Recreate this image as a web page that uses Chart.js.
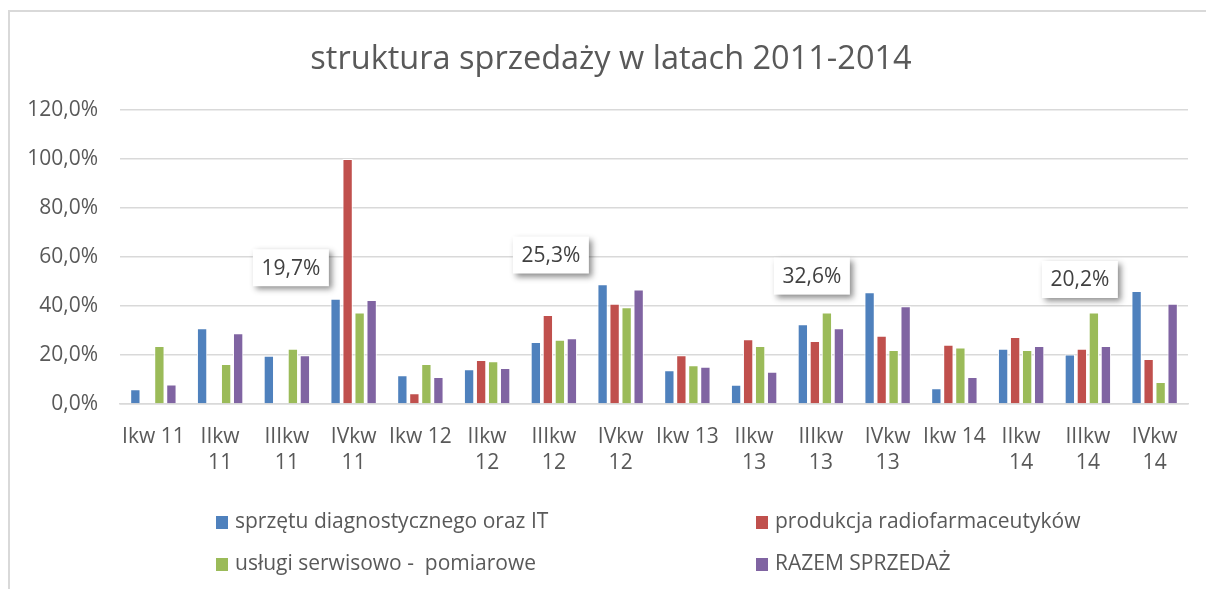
<!DOCTYPE html>
<html>
<head>
<meta charset="utf-8">
<script src="https://cdn.jsdelivr.net/npm/chart.js@4.4.1/dist/chart.umd.min.js"></script>
<style>
  body { margin: 0; background: #fff; font-family: "Open Sans", sans-serif; }
  #wrap { position: relative; width: 1206px; height: 589px; overflow: hidden; }
  #frame { position: absolute; left: 8px; top: 10px; width: 1300px; height: 700px;
           border-top: 2px solid #d9d9d9; border-left: 2px solid #d9d9d9; }
  #chart { position: absolute; left: 0; top: 0; }
  #legend { position: absolute; left: 0; top: 0; }
  .item { position: absolute; color: #595959; font-size: 21px; white-space: pre; line-height: 26px; }
  .item span { display: inline-block; width: 12px; height: 13px; margin-right: 7px; vertical-align: -1px; }
</style>
</head>
<body>
<div id="wrap">
  <div id="frame"></div>
  <canvas id="chart" width="1206" height="589"></canvas>
  <div id="legend"></div>
</div>
<script>
// categories (quarters)
const quarters = [
  ["Ikw 11"], ["IIkw", "11"], ["IIIkw", "11"], ["IVkw", "11"],
  ["Ikw 12"], ["IIkw", "12"], ["IIIkw", "12"], ["IVkw", "12"],
  ["Ikw 13"], ["IIkw", "13"], ["IIIkw", "13"], ["IVkw", "13"],
  ["Ikw 14"], ["IIkw", "14"], ["IIIkw", "14"], ["IVkw", "14"]
];

// series values, %
const sprzetIT = [6.0, 30.9, 19.7, 43.0, 11.7, 14.2, 25.3, 48.9, 13.8, 7.9, 32.6, 45.6, 6.4, 22.6, 20.2, 46.1];
const radiofarm = [null, null, null, 100.0, 4.4, 18.0, 36.3, 40.9, 19.9, 26.4, 25.7, 27.9, 24.2, 27.3, 22.6, 18.4];
const uslugi = [23.7, 16.3, 22.6, 37.3, 16.3, 17.4, 26.2, 39.5, 15.8, 23.7, 37.3, 22.0, 23.1, 22.0, 37.3, 9.0];
const razem = [8.0, 28.9, 19.9, 42.4, 11.0, 14.7, 26.8, 46.7, 15.2, 13.2, 30.9, 39.9, 11.0, 23.7, 23.7, 40.9];

const seriesNames = [
  "sprzętu diagnostycznego oraz IT",
  "produkcja radiofarmaceutyków",
  "usługi serwisowo -  pomiarowe",
  "RAZEM SPRZEDAŻ"
];
const colors = ["#4f81bd", "#c0504d", "#9bbb59", "#8064a2"];

// y axis ticks
const yTicks = [0, 20, 40, 60, 80, 100, 120];

// callout labels on the blue bars of III quarters
const calloutIndex = [2, 6, 10, 14];

const fmt = (v) => v.toFixed(1).replace(".", ",") + "%";

//* callout boxes with shadow
const calloutPlugin = {
  id: "callouts",
  afterLayout(chart) {
    // centre the title on the whole frame, not only on the plot
    chart.titleBlock.left = 34;
  },
  afterDatasetsDraw(chart, args, opts) {
    const c = chart.ctx;
    const meta = chart.getDatasetMeta(0);
    calloutIndex.forEach((idx, k) => {
      const bar = meta.data[idx];
      const cx = chart.scales.x.getPixelForValue(idx) + opts.dx[k];
      const cy = bar.y + opts.dy[k];
      const w = 76, h = 37;
      c.save();
      c.shadowColor = "rgba(0,0,0,0.45)";
      c.shadowBlur = 6;
      c.shadowOffsetX = 3;
      c.shadowOffsetY = 3;
      c.fillStyle = "#fff";
      c.fillRect(cx - w / 2, cy - h / 2, w, h);
      c.restore();
      c.save();
      c.fillStyle = "#404040";
      c.font = '21px "Open Sans"';
      c.textAlign = "center";
      c.textBaseline = "middle";
      c.fillText(fmt(sprzetIT[idx]), cx, cy + 1);
      c.restore();
    });
  }
};

const datasets = [sprzetIT, radiofarm, uslugi, razem].map((arr, i) => ({
  label: seriesNames[i],
  data: arr,
  backgroundColor: colors[i],
  borderColor: "#ffffff",
  borderWidth: 1,
  categoryPercentage: 0.72,
  barPercentage: 0.86
}));

const myChart = new Chart(document.getElementById("chart"), {
  type: "bar",
  data: { labels: quarters, datasets: datasets },
  plugins: [calloutPlugin],
  options: {
    responsive: false,
    animation: false,
    layout: { padding: { left: 0, right: 18, top: 0, bottom: 105 } },
    plugins: {
      legend: { display: false },
      tooltip: { enabled: false },
      title: {
        display: true,
        text: "struktura sprzedaży w latach 2011-2014",
        color: "#595959",
        font: { family: "Open Sans", size: 32.5, weight: "normal", lineHeight: 1.2 },
        padding: { top: 40, bottom: 31 }
      },
      callouts: { dx: [4, -3, -9, -8], dy: [-88, -87, -48, -75] }
    },
    scales: {
      x: {
        grid: { display: false, drawTicks: false },
        border: { display: true, color: "#d9d9d9", width: 1.5 },
        ticks: {
          color: "#595959",
          font: { family: "Open Sans", size: 21, lineHeight: 1.25 },
          maxRotation: 0,
          autoSkip: false,
          padding: 20
        },
        afterFit(scale) { scale.height = 80; }
      },
      y: {
        min: 0,
        max: 120,
        afterBuildTicks(scale) { scale.ticks = yTicks.map((v) => ({ value: v })); },
        grid: { color: "#d9d9d9", lineWidth: 1.5, drawTicks: false },
        border: { display: false },
        ticks: {
          color: "#595959",
          font: { family: "Open Sans", size: 21 },
          padding: 22,
          callback: (v) => fmt(v)
        },
        afterFit(scale) { scale.width = 120; }
      }
    }
  }
});

// legend in two columns
const legendDiv = document.getElementById("legend");
const legendPos = [[216, 507], [756, 507], [216, 549], [756, 549]];
seriesNames.forEach((name, i) => {
  const item = document.createElement("div");
  item.className = "item";
  item.style.left = legendPos[i][0] + "px";
  item.style.top = legendPos[i][1] + "px";
  const box = document.createElement("span");
  box.style.background = colors[i];
  item.append(box, document.createTextNode(name));
  legendDiv.append(item);
});
</script>
</body>
</html>
